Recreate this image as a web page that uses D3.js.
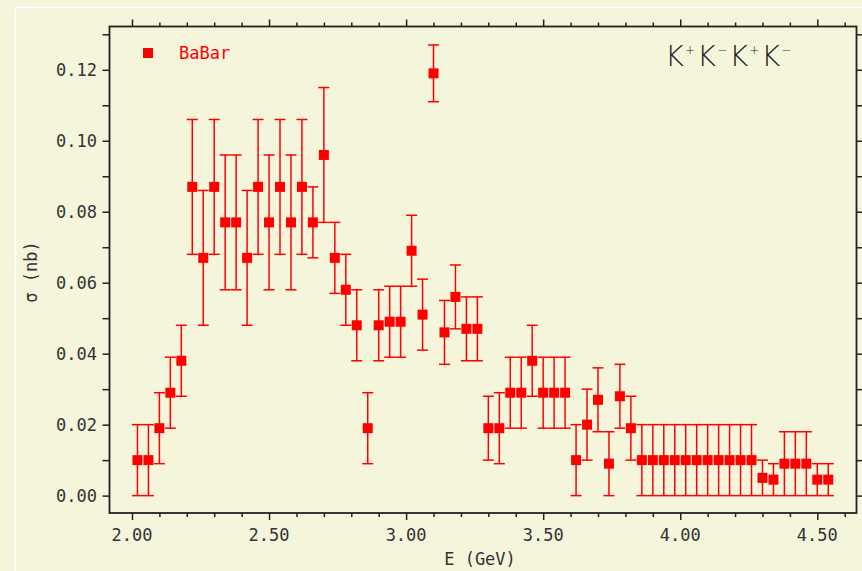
<!DOCTYPE html>
<html>
<head>
<meta charset="utf-8">
<script src="https://cdn.jsdelivr.net/npm/d3@7"></script>
<style>
  html, body { margin: 0; padding: 0; background: #f5f5dc; }
  svg { display: block; }
  text { font-family: "DejaVu Sans Mono", monospace; fill: #333; }
</style>
</head>
<body>
<div id="chart"></div>
<script>
// K+K-K+K- cross section, BaBar
var energy = [2.02, 2.06, 2.10, 2.14, 2.18, 2.22, 2.26, 2.30, 2.34, 2.38,
  2.42, 2.46, 2.50, 2.54, 2.58, 2.62, 2.66, 2.70, 2.74, 2.78,
  2.82, 2.86, 2.90, 2.94, 2.98, 3.02, 3.06, 3.10, 3.14, 3.18,
  3.22, 3.26, 3.30, 3.34, 3.38, 3.42, 3.46, 3.50, 3.54, 3.58,
  3.62, 3.66, 3.70, 3.74, 3.78, 3.82, 3.86, 3.90, 3.94, 3.98,
  4.02, 4.06, 4.10, 4.14, 4.18, 4.22, 4.26, 4.30, 4.34, 4.38,
  4.42, 4.46, 4.50, 4.54];
var sigma = [0.010, 0.010, 0.019, 0.029, 0.038, 0.087, 0.067, 0.087, 0.077, 0.077,
  0.067, 0.087, 0.077, 0.087, 0.077, 0.087, 0.077, 0.096, 0.067, 0.058,
  0.048, 0.019, 0.048, 0.049, 0.049, 0.069, 0.051, 0.119, 0.046, 0.056,
  0.047, 0.047, 0.019, 0.019, 0.029, 0.029, 0.038, 0.029, 0.029, 0.029,
  0.010, 0.020, 0.027, 0.009, 0.028, 0.019, 0.010, 0.010, 0.010, 0.010,
  0.010, 0.010, 0.010, 0.010, 0.010, 0.010, 0.010, 0.005, 0.0045, 0.009,
  0.009, 0.009, 0.0045, 0.0045];
var sigmaErr = [0.010, 0.010, 0.010, 0.010, 0.010, 0.019, 0.019, 0.019, 0.019, 0.019,
  0.019, 0.019, 0.019, 0.019, 0.019, 0.019, 0.010, 0.019, 0.010, 0.010,
  0.010, 0.010, 0.010, 0.010, 0.010, 0.010, 0.010, 0.008, 0.009, 0.009,
  0.009, 0.009, 0.009, 0.010, 0.010, 0.010, 0.010, 0.010, 0.010, 0.010,
  0.010, 0.010, 0.009, 0.009, 0.009, 0.009, 0.010, 0.010, 0.010, 0.010,
  0.010, 0.010, 0.010, 0.010, 0.010, 0.010, 0.010, 0.005, 0.0045, 0.009,
  0.009, 0.009, 0.0045, 0.0045];
var xTickLabels = [2.0, 2.5, 3.0, 3.5, 4.0, 4.5];
var yTickLabels = [0.00, 0.02, 0.04, 0.06, 0.08, 0.10, 0.12];

(function() {
  var width = 862, height = 571;
  var mLeft = 109.5, mRight = 856.5, mTop = 26.5, mBottom = 513;
  var markerSize = 10, capW = 11;
  var red = '#ff0000';

  var svg = d3.select('#chart').append('svg')
    .attr('width', width).attr('height', height);

  svg.append('rect').attr('width', width).attr('height', height).attr('fill', '#f5f5dc');
  // thin white outer border
  svg.append('rect')
    .attr('x', 15.5).attr('y', 7.5).attr('width', width).attr('height', height)
    .attr('fill', 'none').attr('stroke', '#fff').attr('stroke-width', 1.5);

  var x = d3.scaleLinear().domain([1.918, 4.643]).range([mLeft, mRight]);
  var y = d3.scaleLinear().domain([-0.0049, 0.1322]).range([mBottom, mTop]);

  var points = energy.map(function(e, i) {
    return {e: e, s: sigma[i], err: sigmaErr[i]};
  });

  // axes: ticks outside on all four sides
  var xMinor = d3.range(20, 47).map(function(d) { return d / 10; });
  var yMinor = d3.range(0, 14).map(function(d) { return d / 100; });

  function isMajorX(d) { return Math.abs(d * 2 - Math.round(d * 2)) < 1e-6; }

  svg.append('g')
    .attr('transform', 'translate(0,' + mBottom + ')')
    .call(d3.axisBottom(x).tickValues(xMinor).tickSizeOuter(0).tickFormat(''))
    .call(function(g) {
      g.select('.domain').remove();
      g.selectAll('.tick line')
        .attr('y2', function(d) { return isMajorX(d) ? 7 : 4; })
        .attr('stroke', '#222').attr('stroke-width', 1.5);
    });
  svg.append('g')
    .attr('transform', 'translate(0,' + mTop + ')')
    .call(d3.axisTop(x).tickValues(xMinor).tickSizeOuter(0).tickFormat(''))
    .call(function(g) {
      g.select('.domain').remove();
      g.selectAll('.tick line')
        .attr('y2', function(d) { return isMajorX(d) ? -7 : -4; })
        .attr('stroke', '#222').attr('stroke-width', 1.5);
    });
  svg.append('g')
    .attr('transform', 'translate(' + mLeft + ',0)')
    .call(d3.axisLeft(y).tickValues(yMinor).tickSize(7).tickSizeOuter(0).tickFormat(''))
    .call(function(g) {
      g.select('.domain').remove();
      g.selectAll('.tick line').attr('stroke', '#222').attr('stroke-width', 1.5);
    });
  svg.append('g')
    .attr('transform', 'translate(' + mRight + ',0)')
    .call(d3.axisRight(y).tickValues(yMinor).tickSize(7).tickSizeOuter(0).tickFormat(''))
    .call(function(g) {
      g.select('.domain').remove();
      g.selectAll('.tick line').attr('stroke', '#222').attr('stroke-width', 1.5);
    });

  // tick labels
  svg.append('g').selectAll('text.xl')
    .data(xTickLabels).enter().append('text')
    .attr('x', function(d) { return x(d); })
    .attr('y', mBottom + 28)
    .attr('text-anchor', 'middle')
    .style('font-size', '17px')
    .text(function(d) { return d.toFixed(2); });
  svg.append('g').selectAll('text.yl')
    .data(yTickLabels).enter().append('text')
    .attr('x', 97)
    .attr('y', function(d) { return y(d) + 6.5; })
    .attr('text-anchor', 'end')
    .style('font-size', '17px')
    .text(function(d) { return d.toFixed(2); });

  // axis titles
  svg.append('text')
    .attr('x', 480).attr('y', 565)
    .attr('text-anchor', 'middle')
    .style('font-size', '17px')
    .text('E (GeV)');
  svg.append('text')
    .attr('transform', 'translate(37,272) rotate(-90)')
    .attr('text-anchor', 'middle')
    .style('font-size', '17px')
    .text('\u03c3 (nb)');

  // error bars
  var bars = svg.append('g').attr('stroke', red).attr('stroke-width', 1.5).attr('fill', 'none');
  var eb = bars.selectAll('g.eb').data(points).enter().append('g').classed('eb', true);
  eb.append('line')
    .attr('x1', function(d) { return x(d.e); }).attr('x2', function(d) { return x(d.e); })
    .attr('y1', function(d) { return y(d.s - d.err); })
    .attr('y2', function(d) { return y(d.s + d.err); });
  eb.append('line')
    .attr('x1', function(d) { return x(d.e) - capW / 2; })
    .attr('x2', function(d) { return x(d.e) + capW / 2; })
    .attr('y1', function(d) { return y(d.s + d.err); })
    .attr('y2', function(d) { return y(d.s + d.err); });
  eb.append('line')
    .attr('x1', function(d) { return x(d.e) - capW / 2; })
    .attr('x2', function(d) { return x(d.e) + capW / 2; })
    .attr('y1', function(d) { return y(d.s - d.err); })
    .attr('y2', function(d) { return y(d.s - d.err); });

  // markers
  svg.append('g').selectAll('rect.pt')
    .data(points).enter().append('rect').classed('pt', true)
    .attr('x', function(d) { return x(d.e) - markerSize / 2; })
    .attr('y', function(d) { return y(d.s) - markerSize / 2; })
    .attr('width', markerSize).attr('height', markerSize)
    .attr('fill', red);

  // frame
  svg.append('rect')
    .attr('x', mLeft).attr('y', mTop)
    .attr('width', mRight - mLeft).attr('height', mBottom - mTop)
    .attr('fill', 'none').attr('stroke', '#222').attr('stroke-width', 1.8);

  // legend
  svg.append('rect')
    .attr('x', 143).attr('y', 48).attr('width', markerSize).attr('height', markerSize)
    .attr('fill', red);
  svg.append('text')
    .attr('x', 179).attr('y', 59)
    .style('font-size', '17px').style('fill', red)
    .text('BaBar');

  // title
  var title = svg.append('text')
    .attr('x', 665).attr('y', 66)
    .style('font-family', '"DejaVu Sans", sans-serif')
    .style('font-weight', 200)
    .style('font-size', '29px')
    .style('fill', '#222');
  ['+', '\u2212', '+', '\u2212'].forEach(function(c, i) {
    title.append('tspan').attr('dx', i === 0 ? 0 : 2).attr('dy', i === 0 ? 0 : 12).text('K');
    title.append('tspan').attr('dx', 1).attr('dy', -12).style('font-size', '12px').text(c);
  });
})();
</script>
</body>
</html>
